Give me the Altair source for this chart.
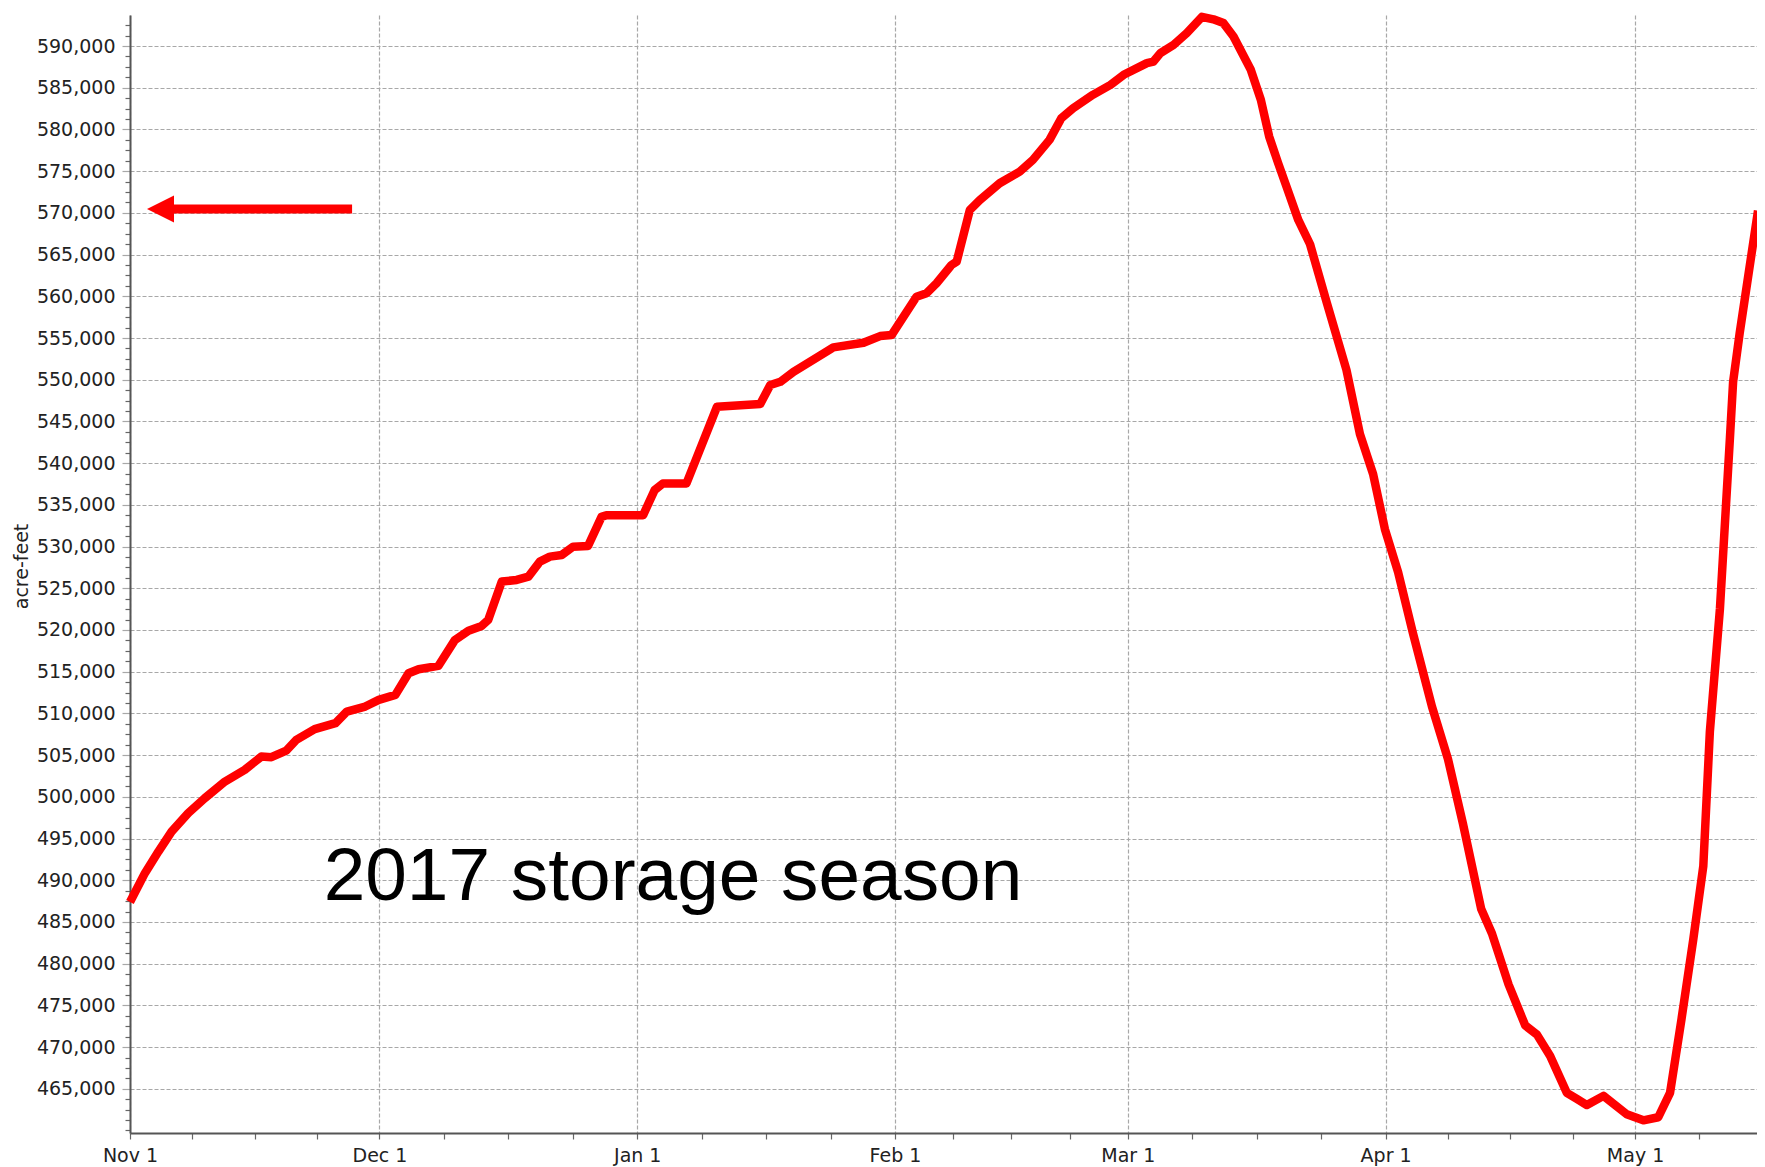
import altair as alt
import pandas as pd
from datetime import datetime

# ---- data (storage in acre-feet) ----
dates = [
    "2016-11-01T00:00", "2016-11-02T19:00", "2016-11-04T10:00", "2016-11-06T00:00",
    "2016-11-08T00:00", "2016-11-10T00:00", "2016-11-12T10:00", "2016-11-14T19:00",
    "2016-11-16T19:00", "2016-11-18T00:00", "2016-11-19T19:00", "2016-11-21T00:00",
    "2016-11-23T05:00", "2016-11-25T17:00", "2016-11-27T02:00", "2016-11-29T07:00",
    "2016-11-30T22:00", "2016-12-02T22:00", "2016-12-04T12:00", "2016-12-05T17:00",
    "2016-12-08T02:00", "2016-12-10T02:00", "2016-12-11T17:00", "2016-12-13T07:00",
    "2016-12-14T02:00", "2016-12-15T17:00", "2016-12-17T12:00", "2016-12-18T22:00",
    "2016-12-20T07:00", "2016-12-21T12:00", "2016-12-22T22:00", "2016-12-24T07:00",
    "2016-12-26T02:00", "2016-12-27T17:00", "2016-12-28T07:00", "2017-01-01T17:00",
    "2017-01-03T02:00", "2017-01-04T02:00", "2017-01-06T22:00", "2017-01-10T14:00",
    "2017-01-15T19:00", "2017-01-17T00:00", "2017-01-18T05:00", "2017-01-19T19:00",
    "2017-01-23T10:00", "2017-01-24T14:00", "2017-01-28T05:00", "2017-01-30T05:00",
    "2017-01-31T14:00", "2017-02-03T14:00", "2017-02-04T19:00", "2017-02-06T00:00",
    "2017-02-07T19:00", "2017-02-08T10:00", "2017-02-10T00:00", "2017-02-11T05:00",
    "2017-02-13T14:00", "2017-02-16T00:00", "2017-02-17T14:00", "2017-02-19T14:00",
    "2017-02-21T00:00", "2017-02-22T10:00", "2017-02-24T19:00", "2017-02-26T22:00",
    "2017-02-28T12:00", "2017-03-03T07:00", "2017-03-04T02:00", "2017-03-04T22:00",
    "2017-03-06T12:00", "2017-03-08T02:00", "2017-03-09T22:00", "2017-03-11T07:00",
    "2017-03-12T12:00", "2017-03-13T17:00", "2017-03-15T19:00", "2017-03-17T00:00",
    "2017-03-18T00:00", "2017-03-19T02:00", "2017-03-20T02:00", "2017-03-21T12:00",
    "2017-03-22T22:00", "2017-03-24T22:00", "2017-03-27T07:00", "2017-03-28T22:00",
    "2017-03-30T12:00", "2017-03-31T22:00", "2017-04-02T12:00", "2017-04-04T07:00",
    "2017-04-06T14:00", "2017-04-08T12:00", "2017-04-10T07:00", "2017-04-12T12:00",
    "2017-04-13T19:00", "2017-04-15T19:00", "2017-04-17T19:00", "2017-04-19T05:00",
    "2017-04-20T19:00", "2017-04-22T19:00", "2017-04-24T00:00", "2017-04-25T05:00",
    "2017-04-27T05:00", "2017-04-30T00:00", "2017-05-02T00:00", "2017-05-03T19:00",
    "2017-05-05T05:00", "2017-05-06T14:00", "2017-05-08T00:00", "2017-05-09T05:00",
    "2017-05-10T00:00", "2017-05-11T05:00", "2017-05-12T10:00", "2017-05-12T19:00",
    "2017-05-13T14:00", "2017-05-15T19:00",
]
storage = [
    487400, 490850, 493440, 495830,
    498040, 499840, 501830, 503230,
    504820, 504750, 505540, 506820,
    508110, 508830, 510220, 510820,
    511620, 512220, 514820, 515300,
    515690, 518810, 519920, 520490,
    521210, 525800, 526000, 526400,
    528190, 528790, 528990, 529990,
    530070, 533560, 533760, 533760,
    536760, 537560, 537560, 546750,
    547080, 549360, 549750, 550950,
    553150, 553880, 554430, 555230,
    555350, 559950, 560360, 561560,
    563750, 564150, 570350, 571550,
    573550, 574950, 576350, 578750,
    581350, 582550, 584150, 585350,
    586550, 587950, 588140, 589150,
    590140, 591550, 593500, 593200,
    592750, 591140, 587150, 583550,
    579150, 575950, 573150, 569150,
    566240, 559270, 551180, 543470,
    538690, 532080, 526950, 519600,
    510790, 504540, 496830, 486550,
    483620, 477500, 472590, 471490,
    468920, 464520, 463790, 463050,
    464150, 461950, 461220, 461590,
    464520, 473330, 482880, 491690,
    507850, 522530, 543110, 549720,
    555590, 570280,
]

# annotation: arrow pointing at 570,000 and the season label
arrow_tip = ["2016-11-03T01:00"]
arrow_tail = ["2016-11-27T17:00"]
arrow_shaft_start = ["2016-11-05T00:00"]
arrow_level = [570465]
label_text = ["2017 storage season"]
label_date = ["2016-11-24T07:00"]
label_level = [487650]

y_title = "acre-feet"

# ---- tick positions ----
month_starts = [datetime(2016, 11, 1), datetime(2016, 12, 1), datetime(2017, 1, 1),
                datetime(2017, 2, 1), datetime(2017, 3, 1), datetime(2017, 4, 1),
                datetime(2017, 5, 1), datetime(2017, 6, 1)]
x_end = datetime(2017, 5, 15, 16, 0)
x_ticks = []
for a, b in zip(month_starts[:-1], month_starts[1:]):
    step = (b - a) / 4
    for k in range(4):
        t = a + step * k
        if t <= x_end:
            x_ticks.append(t)


def dt(t):
    return alt.DateTime(year=t.year, month=t.month, date=t.day,
                        hours=t.hour, minutes=t.minute)


x_values = [dt(t) for t in x_ticks]
y_values = list(range(460000, 593751, 1250))

x_domain = [dt(datetime(2016, 11, 1)), dt(x_end)]
y_domain = [459700, 593720]

line_df = pd.DataFrame({"date": dates, "value": storage})
text_df = pd.DataFrame({"date": label_date, "value": label_level, "label": label_text})
shaft_df = pd.DataFrame({"date": arrow_shaft_start, "date2": arrow_tail, "value": arrow_level})
head_df = pd.DataFrame({"date": arrow_tip, "value": arrow_level})

major_x = "date(datum.value) == 1 && hours(datum.value) == 0"
major_y = "datum.value % 5000 === 0 && datum.value > 460000"

x_axis = alt.Axis(
    values=x_values,
    labelExpr=f"{major_x} ? timeFormat(datum.value, '%b %-d') : ''",
    labelOverlap=False,
    labelFlush=False,
    labelPadding=7,
    tickSize=6,
    tickColor="#666666",
    tickWidth=1.2,
    grid=True,
    gridColor="#a8a8a8",
    gridDash=[4, 2],
    gridWidth=1.2,
    gridOpacity={"condition": {"test": major_x, "value": 1}, "value": 0},
    domainColor="#555555",
    domainWidth=2,
)

y_axis = alt.Axis(
    values=y_values,
    labelExpr=f"{major_y} ? format(datum.value, ',') : ''",
    labelOverlap=False,
    labelFlush=False,
    labelPadding=7,
    tickSize={"condition": {"test": major_y, "value": 8}, "value": 5},
    tickColor={"condition": {"test": major_y, "value": "#a8a8a8"}, "value": "#666666"},
    tickWidth=1.2,
    grid=True,
    gridColor="#a8a8a8",
    gridDash=[4, 2],
    gridWidth=1.2,
    gridOpacity={"condition": {"test": major_y, "value": 1}, "value": 0},
    domainColor="#555555",
    domainWidth=2,
    titleX=-103,
    titleY=551,
    titleAngle=270,
    titleAlign="center",
    titleBaseline="alphabetic",
)

x_enc = alt.X("date:T", title=None,
              scale=alt.Scale(domain=x_domain, nice=False), axis=x_axis)
y_enc = alt.Y("value:Q", title=y_title,
              scale=alt.Scale(domain=y_domain, nice=False, zero=False), axis=y_axis)

line = alt.Chart(line_df).mark_line(
    color="#ff0000", strokeWidth=8.5, strokeJoin="round", strokeCap="butt"
).encode(x=x_enc, y=y_enc)

text = alt.Chart(text_df).mark_text(
    align="left", baseline="alphabetic", fontSize=74.8, font="Liberation Sans", color="#000000"
).encode(x=x_enc, y=y_enc, text="label:N")

shaft = alt.Chart(shaft_df).mark_rule(
    color="#ff0000", strokeWidth=9, strokeCap="butt"
).encode(x=x_enc, x2="date2:T", y=y_enc)

head = alt.Chart(head_df).mark_point(
    shape="M 0 0 L 2 -1 L 2 1 Z", size=729, filled=True, color="#ff0000",
    opacity=1, strokeWidth=0
).encode(x=x_enc, y=y_enc)

chart = alt.layer(line, text, shaft, head).properties(
    width=1627,
    height=1118,
    padding={"left": 122, "top": 7, "right": 0, "bottom": 34},
    autosize=alt.AutoSizeParams(type="none"),
    background="#ffffff",
).configure_view(
    strokeWidth=0
).configure_axis(
    labelFont="DejaVu Sans",
    labelFontSize=19,
    labelColor="#222222",
    titleFont="DejaVu Sans",
    titleFontSize=19,
    titleFontWeight="normal",
    titleColor="#222222",
)

chart.save("out.html", embed_options={"renderer": "svg", "actions": False})
